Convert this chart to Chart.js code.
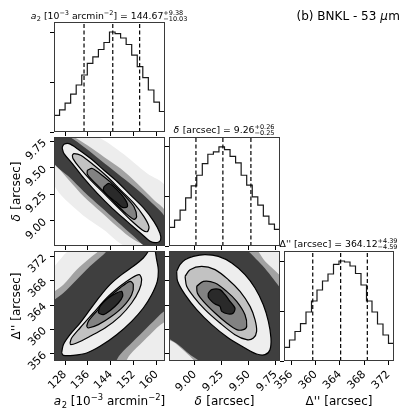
<!DOCTYPE html>
<html><head><meta charset="utf-8">
<script src="https://cdn.jsdelivr.net/npm/chart.js@4.4.1/dist/chart.umd.min.js"></script>
<style>
html,body{margin:0;padding:0;background:#fff;width:416px;height:416px;overflow:hidden}
canvas{position:absolute;left:0;top:0}
</style></head><body>
<script>
// ---------------- data ----------------
const a2Range = [124.16, 162.9];
const deltaRange = [8.76, 9.79];
const dppRange = [354.8, 372.9];
const a2Ticks = [128, 136, 144, 152, 160];
const a2TickLabels = ['128', '136', '144', '152', '160'];
const deltaTicks = [9.00, 9.25, 9.50, 9.75];
const deltaTickLabels = ['9.00', '9.25', '9.50', '9.75'];
const dppTicks = [356, 360, 364, 368, 372];
const dppTickLabels = ['356', '360', '364', '368', '372'];
const histTicks = [0, 50, 100];
const histMax = 110;

const a2Hist = [16.6, 22.2, 28.8, 37.8, 47, 57, 68.6, 75.2, 82.5, 89.5, 100, 98.4, 94, 87.5, 76.9, 65.3, 54.3, 42, 29.8, 20.5];
const deltaHist = [18.8, 26.2, 36.2, 48.6, 60.7, 71.4, 83.2, 92.6, 94.9, 100, 97.3, 90.5, 83.8, 71.4, 61.4, 49.6, 41.3, 30.2, 22.1, 16.8];
const dppHist = [13.6, 21, 29.5, 37.3, 49, 60, 71, 80, 87, 96.6, 100, 99, 95, 87.5, 76, 60, 49, 37, 26, 17.6];

const a2Quant = [134.64, 144.67, 154.05];
const deltaQuant = [9.01, 9.26, 9.52];
const dppQuant = [359.53, 364.12, 368.51];

// panel a2 (x) vs delta (y)
const A_halo = [[124.0,9.80],[138.12,9.80],[147.42,9.649],[156.72,9.445],[163.0,9.32],[163.0,8.75],[149.75,8.75],[141.61,8.912],[133.46,9.069],[124.0,9.351]];
const A_fringe = [[124.0,9.80],[129.98,9.80],[135.79,9.712],[141.61,9.602],[147.42,9.492],[153.24,9.351],[159.05,9.194],[163.0,9.084],[163.0,8.75],[157.89,8.75],[152.07,8.818],[146.26,8.943],[140.44,9.084],[134.63,9.226],[129.39,9.382],[125.32,9.508],[124.0,9.539]];
const A_cloud = [[124.0,9.80],[128.81,9.80],[134.63,9.696],[140.44,9.570],[146.26,9.445],[152.07,9.320],[157.89,9.178],[163.0,9.022],[163.0,8.745],[156.72,8.745],[152.07,8.849],[146.26,8.990],[140.44,9.131],[134.63,9.273],[129.39,9.414],[124.0,9.555]];
const A_outer = [[127.07,9.696],[127.65,9.721],[129.39,9.727],[132.30,9.680],[136.95,9.586],[141.61,9.476],[146.26,9.367],[150.91,9.241],[155.56,9.116],[159.05,8.990],[161.14,8.881],[161.38,8.818],[160.21,8.793],[157.89,8.802],[154.40,8.881],[149.75,8.990],[144.51,9.116],[139.28,9.257],[134.63,9.398],[130.56,9.539],[127.65,9.633],[127.07,9.680]];
const A_mid = [[130.56,9.618],[131.14,9.633],[133.46,9.618],[138.12,9.523],[142.77,9.414],[147.42,9.288],[152.07,9.163],[155.56,9.037],[157.30,8.943],[156.72,8.896],[154.98,8.912],[150.91,9.006],[146.26,9.131],[141.61,9.257],[136.95,9.382],[132.88,9.508],[130.79,9.586]];
const A_inner = [[135.79,9.476],[137.53,9.492],[141.61,9.414],[145.68,9.320],[149.16,9.226],[152.07,9.131],[153.00,9.037],[152.07,9.012],[149.16,9.069],[145.09,9.178],[141.02,9.288],[137.53,9.382],[135.79,9.439]];
const A_core = [[141.61,9.320],[143.35,9.351],[146.26,9.288],[149.16,9.194],[149.75,9.131],[148.00,9.125],[145.68,9.178],[142.77,9.241],[141.37,9.288]];

// panel a2 (x) vs Delta'' (y)
const B_halo = [[122.7,369.55],[132.07,373.7],[164.7,373.7],[164.7,353.6],[122.7,353.6]];
const B_fringe = [[122.7,365.71],[127.42,367.36],[132.07,369.83],[136.72,371.75],[140.21,373.12],[140.21,373.7],[164.7,373.7],[164.7,362.42],[159.98,360.23],[155.33,358.04],[150.68,355.84],[147.19,353.65],[122.7,353.65]];
const B_cloud = [[122.76,364.34],[127.42,365.99],[132.07,368.18],[136.72,370.38],[141.37,372.30],[144.28,373.4],[164.63,373.4],[164.63,364.07],[161.14,362.42],[156.49,360.23],[151.84,358.04],[147.19,355.84],[143.70,353.65],[122.76,353.65]];
const B_outer = [[126.83,356.12],[127.42,357.49],[129.74,359.13],[133.23,361.05],[136.72,363.25],[140.21,365.44],[143.70,367.36],[147.77,369.01],[151.84,370.38],[155.33,371.75],[157.07,372.85],[157.65,373.6],[159.05,373.6],[159.98,371.47],[160.56,369.83],[160.21,367.91],[158.24,365.71],[155.33,363.52],[151.26,361.33],[146.02,359.13],[140.21,357.21],[135.56,356.12],[130.91,355.73],[127.42,355.73]];
const B_mid = [[129.74,357.76],[130.32,358.58],[133.23,360.23],[137.88,362.70],[142.54,365.17],[147.19,367.09],[151.26,368.46],[153.93,369.01],[154.75,368.18],[153.93,366.54],[151.26,364.34],[147.19,362.15],[141.95,360.23],[136.72,358.86],[132.07,357.76],[129.98,357.49]];
const B_inner = [[135.56,360.50],[136.14,361.33],[139.05,362.97],[143.12,365.17],[147.19,366.81],[150.68,367.91],[151.84,367.36],[151.26,365.71],[148.35,363.79],[144.28,362.15],[139.63,360.78],[136.14,360.23]];
const B_core = [[139.63,362.70],[140.21,363.79],[143.12,365.17],[146.02,365.99],[147.77,366.26],[148.12,365.44],[146.61,364.34],[143.70,363.08],[141.37,362.42]];

// panel delta (x) vs Delta'' (y)
const C_halo = [[8.70,373.7],[9.682,373.7],[9.84,370.65],[9.84,353.6],[8.908,353.6],[8.70,355.84]];
const C_fringe = [[8.70,373.7],[9.527,373.7],[9.651,371.20],[9.84,367.36],[9.84,353.6],[9.094,353.6],[8.939,355.84],[8.816,357.76],[8.70,359.13]];
const C_cloud = [[8.70,373.4],[9.434,373.4],[9.589,371.20],[9.744,367.91],[9.836,365.17],[9.836,353.65],[9.187,353.65],[9.001,355.29],[8.847,357.49],[8.70,359.68]];
const C_outer = [[8.831,369.55],[8.862,370.65],[8.909,371.47],[8.986,372.02],[9.094,372.30],[9.218,372.02],[9.342,370.93],[9.465,369.01],[9.558,366.81],[9.635,364.07],[9.682,361.33],[9.706,358.58],[9.697,356.66],[9.651,355.84],[9.573,355.95],[9.465,356.94],[9.311,358.58],[9.156,360.78],[9.017,363.25],[8.909,365.71],[8.840,367.91]];
const C_mid = [[8.909,368.73],[8.955,369.83],[9.063,370.38],[9.187,369.83],[9.311,368.18],[9.419,366.26],[9.512,363.79],[9.558,361.60],[9.573,359.68],[9.543,358.58],[9.481,358.31],[9.372,359.13],[9.233,361.05],[9.094,363.25],[8.986,365.44],[8.924,367.09]];
const C_inner = [[9.017,367.09],[9.079,367.91],[9.187,367.63],[9.295,366.26],[9.388,364.62],[9.465,362.42],[9.481,360.50],[9.450,359.96],[9.388,359.96],[9.295,361.05],[9.187,362.70],[9.079,364.62],[9.023,365.99]];
const C_core = [[9.125,365.99],[9.156,366.54],[9.233,366.54],[9.280,365.71],[9.326,364.62],[9.372,363.52],[9.357,362.70],[9.311,362.53],[9.249,362.97],[9.233,363.79],[9.187,364.18],[9.156,364.62],[9.125,365.28]];

// ---------------- text ----------------
const a2Title = [{t:'a',it:true},{t:'2',sub:true},{t:' [10'},{t:'\u22123',sup:true},{t:' arcmin'},{t:'\u22122',sup:true},{t:'] = 144.67'},{pm:['+9.38','\u221210.03']}];
const deltaTitle = [{t:'\u03b4',it:true},{t:' [arcsec] = 9.26'},{pm:['+0.26','\u22120.25']}];
const dppTitle = [{t:"\u0394'' [arcsec] = 364.12"},{pm:['+4.39','\u22124.59']}];
const a2Label = [{t:'a',it:true},{t:'2',sub:true},{t:' [10'},{t:'\u22123',sup:true},{t:' arcmin'},{t:'\u22122',sup:true},{t:']'}];
const deltaLabel = [{t:'\u03b4',it:true},{t:' [arcsec]'}];
const dppLabel = [{t:"\u0394'' [arcsec]"}];
const figLabel = [{t:'(b) BNKL - 53 '},{t:'\u03bc',it:true},{t:'m'}];

// ---------------- style / layout ----------------
const W = 416;
const AXSZ = 45;
const COLS = [[54,165],[169,280],[284,394]];
const ROWS = [[22,132],[137,246],[251,361]];
const FONT = '"DejaVu Sans", sans-serif';
const C_HALO = '#ededed', C_FRINGE = '#a2a2a2', C_CLOUD = '#3f3f3f', C_F1 = '#eeeeee', C_F2 = '#c2c2c2', C_F3 = '#828282', C_F4 = '#2a2a2a';
const TITLE_SIZE = 9.3;

Chart.defaults.font.family = FONT;
Chart.defaults.color = '#000';

const AX = {
  a2: {range: a2Range, ticks: a2Ticks, labels: a2TickLabels},
  delta: {range: deltaRange, ticks: deltaTicks, labels: deltaTickLabels},
  dpp: {range: dppRange, ticks: dppTicks, labels: dppTickLabels},
  hist: {range: [0, histMax], ticks: histTicks, labels: histTicks.map(String)}
};

function axisCfg(ax, which, showLabels) {
  const isX = which === 'x';
  return {
    type: 'linear', position: isX ? 'bottom' : 'left', bounds: 'data',
    min: ax.range[0], max: ax.range[1],
    afterFit: s => { if (isX) s.height = AXSZ; else s.width = AXSZ; },
    afterBuildTicks: s => { s.ticks = ax.ticks.map(v => ({value: v})); },
    ticks: {display: showLabels, autoSkip: false, minRotation: 45, maxRotation: 45,
      font: {size: 11}, color: '#000', padding: isX ? 3 : 5, labelOffset: 0,
      callback: (v, i) => ax.labels[i]},
    grid: {display: true, drawOnChartArea: false, drawTicks: true, tickLength: 4, color: '#000', lineWidth: 1},
    border: {display: false}
  };
}

const framePlugin = {id: 'frame', afterDraw(chart) {
  const {ctx, chartArea: a} = chart;
  ctx.save(); ctx.strokeStyle = '#3a3a3a'; ctx.lineWidth = 1;
  ctx.strokeRect(Math.round(a.left) + 0.5, Math.round(a.top) + 0.5, Math.round(a.right - a.left) - 1, Math.round(a.bottom - a.top) - 1);
  ctx.restore();
}};

function drawRich(ctx, parts, x, y, size, align) {
  const ss = size * 0.7;
  const font = (s, it) => (it ? 'italic ' : '') + s + 'px ' + FONT;
  const items = parts.map(p => {
    if (p.pm) { ctx.font = font(ss); return {p, w: Math.max(ctx.measureText(p.pm[0]).width, ctx.measureText(p.pm[1]).width) + 1}; }
    const s = (p.sup || p.sub) ? ss : size;
    ctx.font = font(s, p.it);
    return {p, s, w: ctx.measureText(p.t).width + (p.it ? 0.5 : 0)};
  });
  const total = items.reduce((a, b) => a + b.w, 0);
  let cx = align === 'center' ? x - total / 2 : align === 'right' ? x - total : x;
  ctx.textAlign = 'left'; ctx.textBaseline = 'alphabetic'; ctx.fillStyle = '#000';
  for (const it of items) {
    const p = it.p;
    if (p.pm) {
      ctx.font = font(ss);
      ctx.fillText(p.pm[0], cx, y - size * 0.42);
      ctx.fillText(p.pm[1], cx, y + size * 0.3);
    } else {
      ctx.font = font(it.s, p.it);
      ctx.fillText(p.t, cx, y + (p.sup ? -size * 0.42 : p.sub ? size * 0.22 : 0));
    }
    cx += it.w;
  }
}

function textPlugin(id, fn) { return {id, afterDraw(chart) { const ctx = chart.ctx; ctx.save(); fn(ctx, chart.chartArea); ctx.restore(); }}; }

const toXY = arr => arr.map(p => ({x: p[0], y: p[1]}));
function polyDS(arr, color, line, order) {
  return {data: toXY(arr.concat([arr[0]])), fill: 'shape', backgroundColor: color,
    borderColor: line ? '#000' : 'rgba(0,0,0,0)', borderWidth: line ? 1.2 : 1,
    pointRadius: 0, tension: 0.3, order, clip: 0};
}
function histDS(counts, range) {
  const n = counts.length, step = (range[1] - range[0]) / n;
  const pts = [{x: range[0], y: 0}];
  counts.forEach((c, i) => pts.push({x: range[0] + i * step, y: c}));
  pts.push({x: range[1], y: counts[n - 1]});
  pts.push({x: range[1], y: 0});
  return {data: pts, stepped: true, borderColor: '#1a1a1a', borderWidth: 1.2, pointRadius: 0, fill: false, order: 1};
}
function qDS(q) {
  return {data: [{x: q, y: 0}, {x: q, y: histMax}], borderColor: '#000', borderWidth: 1.2,
    borderDash: [4, 2.5], pointRadius: 0, fill: false, order: 0};
}
function panelDS(halo, fringe, cloud, outer, mid, inner, core) {
  return [polyDS(halo, C_HALO, false, 11), polyDS(fringe, C_FRINGE, false, 10), polyDS(cloud, C_CLOUD, false, 9),
    polyDS(outer, C_F1, true, 8), polyDS(mid, C_F2, true, 7),
    polyDS(inner, C_F3, true, 6), polyDS(core, C_F4, true, 5)];
}

function makeChart(col, row, xAx, yAx, showX, showY, datasets, plugins) {
  const cv = document.createElement('canvas');
  cv.width = W; cv.height = W; cv.style.width = W + 'px'; cv.style.height = W + 'px';
  document.body.appendChild(cv);
  return new Chart(cv, {type: 'line', data: {datasets},
    options: {responsive: false, animation: false, devicePixelRatio: 1, events: [],
      layout: {padding: {left: COLS[col][0] - AXSZ, right: W - COLS[col][1], top: ROWS[row][0], bottom: W - ROWS[row][1] - AXSZ}},
      scales: {x: axisCfg(xAx, 'x', showX), y: axisCfg(yAx, 'y', showY)},
      plugins: {legend: {display: false}, tooltip: {enabled: false}, title: {display: false}}},
    plugins: [framePlugin].concat(plugins || [])});
}

// histograms
makeChart(0, 0, AX.a2, AX.hist, false, false,
  [histDS(a2Hist, a2Range)].concat(a2Quant.map(qDS)),
  [textPlugin('t1', (ctx, a) => drawRich(ctx, a2Title, (a.left + a.right) / 2, a.top - 3.5, TITLE_SIZE, 'center'))]);
makeChart(1, 1, AX.delta, AX.hist, false, false,
  [histDS(deltaHist, deltaRange)].concat(deltaQuant.map(qDS)),
  [textPlugin('t2', (ctx, a) => drawRich(ctx, deltaTitle, (a.left + a.right) / 2, a.top - 4.5, TITLE_SIZE, 'center'))]);
makeChart(2, 2, AX.dpp, AX.hist, true, false,
  [histDS(dppHist, dppRange)].concat(dppQuant.map(qDS)),
  [textPlugin('t3', (ctx, a) => {
    drawRich(ctx, dppTitle, (a.left + a.right) / 2, a.top - 4.5, TITLE_SIZE, 'center');
    drawRich(ctx, dppLabel, (a.left + a.right) / 2, 405, 12, 'center');
    drawRich(ctx, figLabel, 400, 20, 12, 'right');
  })]);

// 2D panels
makeChart(0, 1, AX.a2, AX.delta, false, true,
  panelDS(A_halo, A_fringe, A_cloud, A_outer, A_mid, A_inner, A_core),
  [textPlugin('t4', (ctx, a) => { ctx.translate(19.5, (a.top + a.bottom) / 2); ctx.rotate(-Math.PI / 2); drawRich(ctx, deltaLabel, 0, 0, 12, 'center'); })]);
makeChart(0, 2, AX.a2, AX.dpp, true, true,
  panelDS(B_halo, B_fringe, B_cloud, B_outer, B_mid, B_inner, B_core),
  [textPlugin('t5', (ctx, a) => {
    drawRich(ctx, a2Label, (a.left + a.right) / 2, 405, 12, 'center');
    ctx.translate(19.5, (a.top + a.bottom) / 2); ctx.rotate(-Math.PI / 2); drawRich(ctx, dppLabel, 0, 0, 12, 'center');
  })]);
makeChart(1, 2, AX.delta, AX.dpp, true, false,
  panelDS(C_halo, C_fringe, C_cloud, C_outer, C_mid, C_inner, C_core),
  [textPlugin('t6', (ctx, a) => drawRich(ctx, deltaLabel, (a.left + a.right) / 2, 405, 12, 'center'))]);
</script>
</body></html>
